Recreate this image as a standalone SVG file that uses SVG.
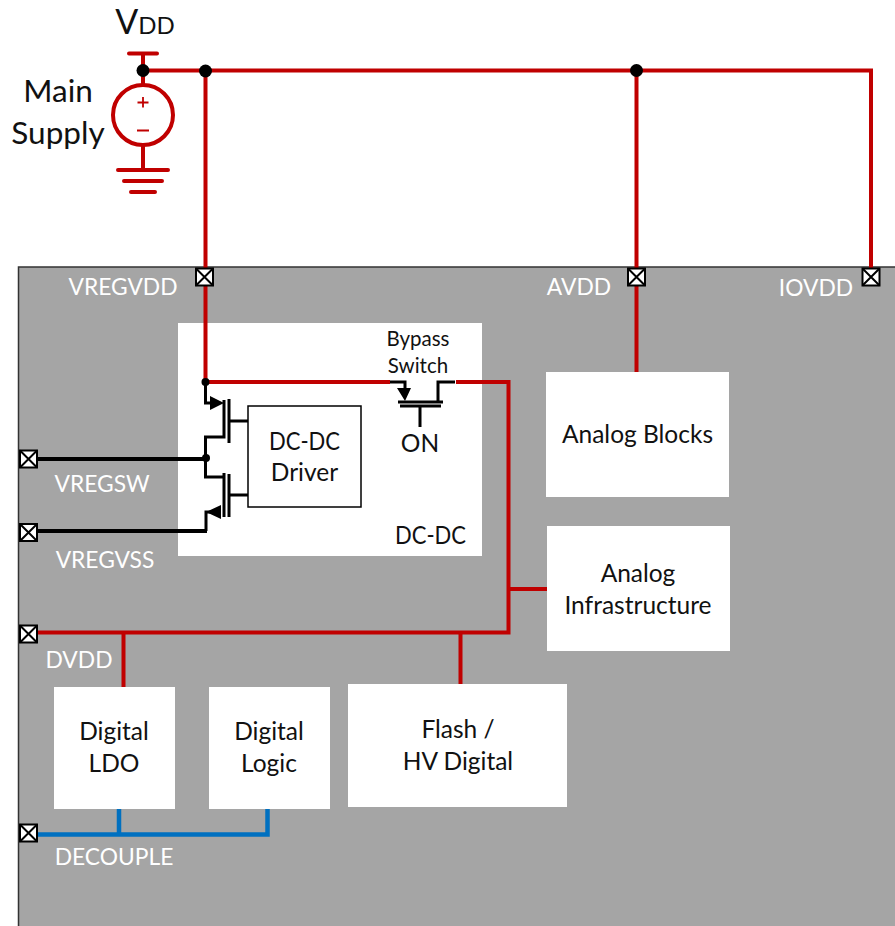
<svg xmlns="http://www.w3.org/2000/svg" width="895" height="926" viewBox="0 0 895 926">
<style>
text{font-family:"Lato","Open Sans","Liberation Sans",sans-serif;fill:#111;font-size:24.500px;text-anchor:middle}
.w{fill:#fff;font-size:22.800px}
.s{font-size:20.500px}
.r{fill:none;stroke:#c00000;stroke-width:4}
.k{fill:none;stroke:#000;stroke-width:3}
.kb{fill:none;stroke:#000;stroke-width:4}
.b{fill:none;stroke:#0070c0;stroke-width:4.5}
.box{fill:#fff}
.pad rect{fill:#fff;stroke:#000;stroke-width:2}
.pad path{stroke:#000;stroke-width:2;fill:none}
</style>
<defs>
<g id="padsym" class="pad"><rect x="0" y="0" width="17" height="17"/><path d="M0 0L17 17M17 0L0 17"/></g>
</defs>
<rect id="chip" x="18.500" y="267" width="880" height="665" fill="#a5a5a5" stroke="#333" stroke-width="1.500"/>
<g id="dcdc"><rect class="box" x="178" y="323" width="304" height="233"/><text x="430.500" y="544" textLength="71" lengthAdjust="spacingAndGlyphs">DC-DC</text></g>
<g id="analog-blocks"><rect class="box" x="546" y="372" width="183" height="125"/><text x="637.500" y="443">Analog Blocks</text></g>
<g id="analog-infra"><rect class="box" x="547" y="526" width="183" height="125"/><text x="638" y="582">Analog</text><text x="638" y="614">Infrastructure</text></g>
<g id="flash"><rect class="box" x="348" y="684" width="219" height="123"/><text x="458" y="738">Flash /</text><text x="458" y="770">HV Digital</text></g>
<g id="digital-ldo"><rect class="box" x="54" y="687" width="121" height="122"/><text x="114" y="740">Digital</text><text x="114" y="772">LDO</text></g>
<g id="digital-logic"><rect class="box" x="209" y="687" width="121" height="122"/><text x="269" y="740">Digital</text><text x="269" y="772">Logic</text></g>
<g id="driver"><rect x="248" y="406" width="113" height="101" fill="#fff" stroke="#000" stroke-width="1.500"/><text x="304.500" y="450" textLength="71" lengthAdjust="spacingAndGlyphs">DC-DC</text><text x="304.500" y="481">Driver</text></g>
<g id="connectors">
<path class="r" d="M143 70.500H871V268M205.500 70.500V382H390M636.500 70.500V372M143 53.500V84M143 145V170"/>
<path class="r" d="M129 53.500H157M118 170H168M124 181H162M131 192H155" stroke-linecap="round"/>
<path class="r" d="M456 382H508.500V632.500H37M508.500 589H547M460.500 632.500V684M123.500 632.500V687"/>
<path class="b" d="M37 834.500H267.500V809M119 809V834.500"/>
<path class="kb" d="M37 459H206M37 531H207"/>
<path class="k" d="M205.500 382V403H214M224 400V437H205.500V477H224M224 473V517M229 399V443M229 474V517M229 421H248M229 495H248M218 512H206V531"/>
<path class="k" d="M390 382H405V390M398 402H443M400 406H441M420 406V427M438 402V382H455"/>
<path d="M210 396L224 403L210 410ZM206 512L221 505V519ZM397 388H411L405 401Z" fill="#000"/>
</g>
<g id="junctions" fill="#000"><circle cx="143" cy="70.500" r="6.500"/><circle cx="205.500" cy="71" r="6.500"/><circle cx="636.500" cy="70.500" r="6.500"/><circle cx="205.500" cy="382" r="4"/><circle cx="206" cy="458" r="4"/></g>
<g id="main-supply"><circle cx="143" cy="115" r="30" fill="#fff" stroke="#c00000" stroke-width="4"/><path d="M143 97V107.500M137.500 102.500H148.500M137 130.500H149" stroke="#c00000" stroke-width="1.800" fill="none"/><text x="58" y="102" style="font-size:31.500px">Main</text><text x="58" y="144" style="font-size:31.500px">Supply</text></g>
<g id="vdd"><text x="145" y="34" style="font-size:34px">V<tspan style="font-size:24px">DD</tspan></text></g>
<g id="bypass"><text class="s" x="418" y="346">Bypass</text><text class="s" x="418" y="373">Switch</text><text x="420" y="452">ON</text></g>
<use id="pad-vregvdd" href="#padsym" x="196" y="268.500"/>
<use id="pad-avdd" href="#padsym" x="628" y="268.500"/>
<use id="pad-iovdd" href="#padsym" x="862.500" y="268.500"/>
<use id="pad-vregsw" href="#padsym" x="20" y="450.500"/>
<use id="pad-vregvss" href="#padsym" x="20" y="524"/>
<use id="pad-dvdd" href="#padsym" x="20" y="625.500"/>
<use id="pad-decouple" href="#padsym" x="20" y="824.500"/>
<g id="labels">
<text class="w" x="123" y="295">VREGVDD</text>
<text class="w" x="579" y="295">AVDD</text>
<text class="w" x="816" y="296">IOVDD</text>
<text class="w" x="102" y="492">VREGSW</text>
<text class="w" x="105" y="568">VREGVSS</text>
<text class="w" x="79" y="668">DVDD</text>
<text class="w" x="114" y="865">DECOUPLE</text>
</g>
</svg>
